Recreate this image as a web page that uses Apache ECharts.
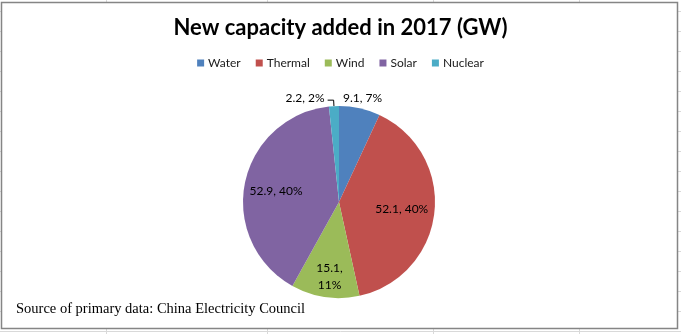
<!DOCTYPE html>
<html>
<head>
<meta charset="utf-8">
<script src="https://cdn.jsdelivr.net/npm/echarts@6/dist/echarts.min.js"></script>
<style>
  html, body { margin: 0; padding: 0; background: #fff; }
  #chart { width: 681px; height: 334px; }
</style>
</head>
<body>
<div id="chart"></div>
<script>
// Values
const categories = ['Water', 'Thermal', 'Wind', 'Solar', 'Nuclear'];
const capacityGW = [9.1, 52.1, 15.1, 52.9, 2.2];
const titleText = 'New capacity added in 2017 (GW)';
const sourceNote = 'Source of primary data: China Electricity Council';

// Styling
const sliceColors = ['#4F81BD', '#C0504D', '#9BBB59', '#8064A2', '#4BACC6'];
const PIE_CENTER = [339, 202];
const PIE_RADIUS = 96;

// Label placement per slice: where the label sits and a small nudge [dx, dy]
const labelPlacement = {
  Water:   { position: 'outside', line: false, shift: [-27, -4] },
  Thermal: { position: 'inside',  line: false, shift: [12, 2] },
  Wind:    { position: 'inside',  line: false, shift: [-2, 24], twoLines: true },
  Solar:   { position: 'inside',  line: false, shift: [-13, -1] },
  Nuclear: { position: 'outside', line: true,  shift: [0, -2] }
};

const pieData = categories.map((name, i) => {
  const p = labelPlacement[name];
  return {
    name: name,
    value: capacityGW[i],
    itemStyle: { color: sliceColors[i] },
    label: {
      position: p.position,
      formatter: p.twoLines ? '{c},\n{d}%' : '{c}, {d}%'
    },
    labelLine: { show: p.line }
  };
});

// Worksheet gridlines peeking out around the chart frame
const W = 681, H = 334;
const frame = { x: 1.5, y: 2.5, w: 676, h: 326 };
const sheetGraphics = [];
for (let y = 11; y <= H; y += 20) {
  sheetGraphics.push({ type: 'line', z: -5, silent: true,
    shape: { x1: 0, y1: y + 0.5, x2: W, y2: y + 0.5 },
    style: { stroke: '#d9d9d9', lineWidth: 1 } });
}
[106, 267, 433, 579].forEach(x => {
  sheetGraphics.push({ type: 'line', z: -5, silent: true,
    shape: { x1: x + 0.5, y1: 0, x2: x + 0.5, y2: H },
    style: { stroke: '#d9d9d9', lineWidth: 1 } });
});
sheetGraphics.push({ type: 'rect', z: -1, silent: true,
  shape: { x: frame.x, y: frame.y, width: frame.w, height: frame.h },
  style: { fill: '#ffffff', stroke: '#858585', lineWidth: 1.5 } });

const chart = echarts.init(document.getElementById('chart'), null, { renderer: 'canvas' });
chart.setOption({
  animation: false,
  backgroundColor: '#ffffff',
  graphic: { elements: sheetGraphics },
  title: [
    {
      text: titleText,
      left: 'center',
      top: 12,
      textStyle: { fontFamily: 'Lato', fontWeight: 'bold', fontSize: 22, color: '#000' }
    },
    {
      text: sourceNote,
      left: 11,
      top: 297,
      textStyle: { fontFamily: 'Liberation Serif', fontWeight: 'normal', fontSize: 14.5, color: '#000' }
    }
  ],
  legend: {
    data: categories,
    left: 'center',
    top: 52,
    icon: 'rect',
    itemWidth: 7,
    itemHeight: 7,
    itemGap: 15,
    selectedMode: false,
    textStyle: { fontFamily: 'Lato', fontSize: 12, color: '#1a1a1a', padding: [0, 0, 0, -1] }
  },
  series: [{
    type: 'pie',
    center: PIE_CENTER,
    radius: PIE_RADIUS,
    startAngle: 90,
    clockwise: true,
    percentPrecision: 0,
    avoidLabelOverlap: false,
    emphasis: { disabled: true },
    itemStyle: { borderWidth: 0 },
    label: {
      fontFamily: 'Lato',
      fontSize: 12,
      color: '#000',
      lineHeight: 17,
      distanceToLabelLine: 3
    },
    labelLine: {
      length: 6,
      length2: 6,
      lineStyle: { color: '#000', width: 1 }
    },
    labelLayout: function (params) {
      const s = labelPlacement[categories[params.dataIndex]].shift;
      return { dx: s[0], dy: s[1] };
    },
    data: pieData
  }]
});
</script>
</body>
</html>
